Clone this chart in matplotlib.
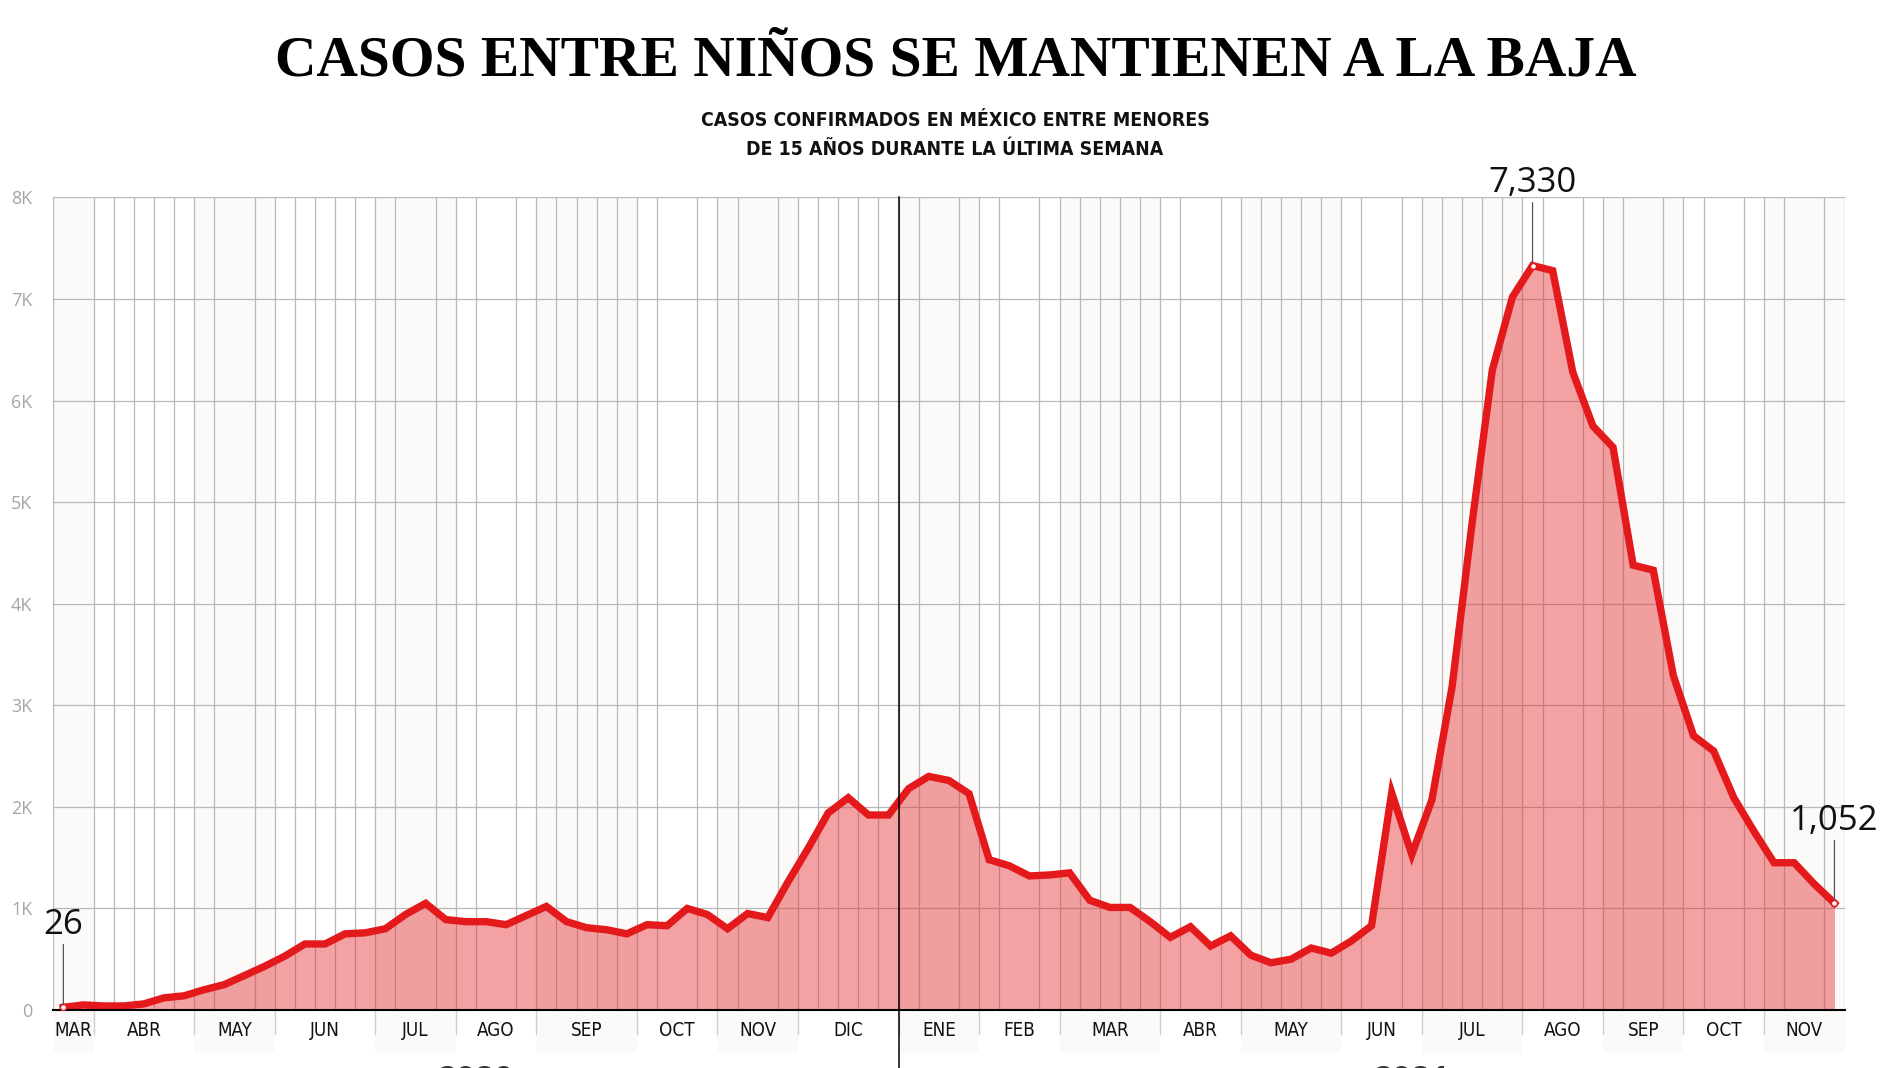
import matplotlib
matplotlib.use("Agg")
import matplotlib.pyplot as plt
from matplotlib import font_manager
from matplotlib.patches import Rectangle
import matplotlib.transforms as mtransforms

# casos semanales en menores de 15 años, una cifra por semana (mar 2020 - nov 2021)
weekly_cases = [26, 50, 40, 40, 60, 120, 140, 200, 250, 340,
                430, 530, 650, 650, 750, 760, 800, 940, 1050, 890,
                870, 870, 840, 930, 1020, 870, 810, 790, 750, 840,
                830, 1000, 940, 800, 950, 910, 1260, 1590, 1940, 2090,
                1920, 1920, 2180, 2300, 2260, 2130, 1480, 1420, 1320, 1330,
                1350, 1080, 1010, 1010, 870, 715, 820, 630, 730, 540,
                465, 500, 610, 560, 680, 830, 2140, 1530, 2070, 3180,
                4800, 6300, 7020, 7330, 7280, 6280, 5750, 5540, 4380, 4330,
                3290, 2700, 2550, 2090, 1760, 1450, 1450, 1240, 1052]

month_labels = ["MAR", "ABR", "MAY", "JUN", "JUL", "AGO", "SEP", "OCT", "NOV", "DIC",
                "ENE", "FEB", "MAR", "ABR", "MAY", "JUN", "JUL", "AGO", "SEP", "OCT", "NOV"]
# semana en la que empieza cada mes (la última es el final del eje)
month_edges = [0, 2, 7, 11, 16, 20, 24, 29, 33, 37, 42, 46, 50, 55, 59, 64, 68, 73, 77, 81, 85, 89]

year_labels = ["2020", "2021"]
year_label_weeks = [21, 67.5]
year_change_week = 42

y_ticks = [0, 1000, 2000, 3000, 4000, 5000, 6000, 7000, 8000]
y_tick_labels = ["0", "1K", "2K", "3K", "4K", "5K", "6K", "7K", "8K"]

highlight_weeks = [0, 73, 88]

title = "CASOS ENTRE NIÑOS SE MANTIENEN A LA BAJA"
subtitle = ["CASOS CONFIRMADOS EN MÉXICO ENTRE MENORES",
            "DE 15 AÑOS DURANTE LA ÚLTIMA SEMANA"]

RED = "#e3191b"
FILL = "#e5262a"
GRID = "#b8b8b8"
BAND = "#fbfaf8"

available = {f.name for f in font_manager.fontManager.ttflist}


def first_font(*names):
    for name in names:
        if name in available:
            return name
    return "DejaVu Sans"


cond_sans = first_font("DejaVu Sans Condensed", "Liberation Sans Narrow", "DejaVu Sans")
plain_sans = first_font("Open Sans", "Noto Sans", "DejaVu Sans")
title_serif = first_font("Liberation Serif", "DejaVu Serif")

fig = plt.figure(figsize=(19, 10.68), dpi=100)
ax = fig.add_axes([53.3 / 1900, 58 / 1068, 1791.2 / 1900, 812.5 / 1068])

weeks = [i + 0.5 for i in range(len(weekly_cases))]

ax.set_xlim(0, month_edges[-1])
ax.set_ylim(0, 8000)

# franjas alternas por mes, también bajo las etiquetas
below = mtransforms.blended_transform_factory(ax.transData, ax.transAxes)
for k in range(0, len(month_labels), 2):
    x0, x1 = month_edges[k], month_edges[k + 1]
    ax.axvspan(x0, x1, color=BAND, lw=0, zorder=0)
    ax.add_patch(Rectangle((x0, -0.053), x1 - x0, 0.053, transform=below,
                           facecolor=BAND, lw=0, clip_on=False, zorder=0))
for edge in month_edges[1:-1]:
    ax.plot([edge, edge], [0, -0.03], transform=below, color="#cfcfcf",
            lw=1, clip_on=False, zorder=1)

ax.set_axisbelow(True)
ax.set_xticks([(month_edges[k] + month_edges[k + 1]) / 2 for k in range(len(month_labels))])
ax.set_xticklabels(month_labels, fontsize=13.5, family=cond_sans, fontstretch="condensed",
                   color="#111111")
ax.set_xticks(range(month_edges[-1] + 1), minor=True)
ax.set_yticks(y_ticks)
ax.set_yticklabels(y_tick_labels, fontsize=13, family=plain_sans, color="#a6a6a6")
ax.tick_params(axis="both", which="both", length=0)
ax.tick_params(axis="x", pad=8)
ax.tick_params(axis="y", pad=15)
ax.grid(which="minor", axis="x", color=GRID, lw=0.9)
ax.grid(which="major", axis="y", color=GRID, lw=0.9)
ax.grid(which="major", axis="x", visible=False)

for side in ["top", "left", "right"]:
    ax.spines[side].set_visible(False)
ax.spines["bottom"].set_color("black")
ax.spines["bottom"].set_linewidth(1.5)
ax.spines["bottom"].set_zorder(4)

ax.fill_between(weeks, 0, weekly_cases, color=FILL, alpha=0.43, lw=0, zorder=2)
ax.plot(weeks, weekly_cases, color=RED, lw=5.3, solid_joinstyle="miter", zorder=3)

# cambio de año
ax.plot([year_change_week, year_change_week], [1, -0.1], transform=below,
        color="black", lw=1.1, clip_on=False, zorder=5)
for label, wk in zip(year_labels, year_label_weeks):
    ax.text(wk, -0.066, label, transform=below, ha="center", va="top", fontsize=24,
            family=plain_sans, fontweight="bold", color="#333333", clip_on=False)

for i in highlight_weeks:
    value = weekly_cases[i]
    ax.plot(weeks[i], value, "o", ms=4.5, mfc="white", mec=RED, mew=1.2, zorder=6)
    ax.annotate(f"{value:,}", xy=(weeks[i], value), xytext=(0, 53),
                textcoords="offset points", ha="center", va="baseline",
                fontsize=25, family=plain_sans, color="#111111",
                arrowprops=dict(arrowstyle="-", color="#555555", lw=0.9,
                                shrinkA=0, shrinkB=2, relpos=(0.5, 0)),
                annotation_clip=False, zorder=6)

title_text = fig.text(0.503, 1 - 75 / 1068, title, ha="center", va="baseline",
                      fontsize=60, fontweight="bold", family=title_serif)
sub_texts = [fig.text(0.5026, 1 - y / 1068, line, ha="center", va="center",
                      fontsize=14, fontweight="bold", family=cond_sans,
                      fontstretch="condensed", color="#111111")
             for line, y in zip(subtitle, [121, 149])]

# ajustar el tamaño de los textos de cabecera al ancho del original
fig.canvas.draw()
width = title_text.get_window_extent().width
title_text.set_fontsize(60 * 1365 / width)
width = sub_texts[0].get_window_extent().width
for t in sub_texts:
    t.set_fontsize(14 * 510 / width)

fig.savefig("out.png", dpi=100)
